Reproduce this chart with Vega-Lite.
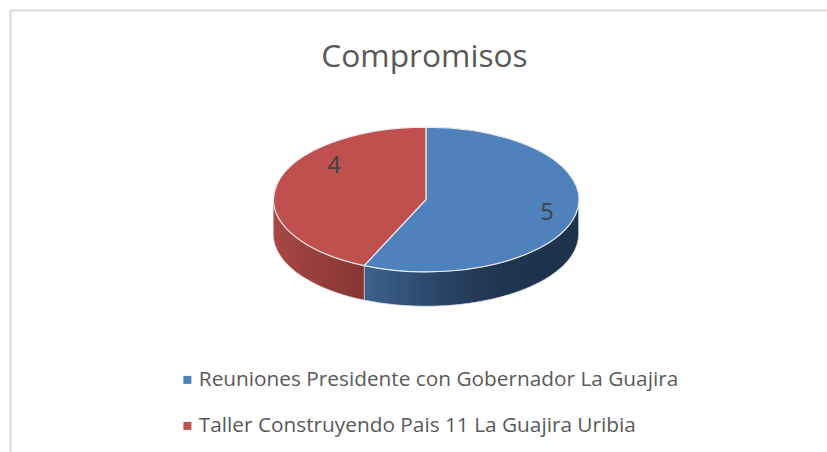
{
"$schema":"https://vega.github.io/schema/vega-lite/v6.json",
"width":817,"height":442,
"autosize":{"type":"none"},
"padding":{"left":10,"top":10,"right":0,"bottom":0},
"background":"white",
"view":{"stroke":null},
"title":{"text":"Compromisos","font":"Open Sans","fontSize":31.7,"fontWeight":"normal","color":"#595959","anchor":"middle","frame":"group","dx":6,"offset":-89,"baseline":"alphabetic"},
"data":{"values":[
{"categoria":"Reuniones Presidente con Gobernador La Guajira","porcion":"Reuniones","valor":5},
{"categoria":"Taller Construyendo Pais 11 La Guajira Uribia","porcion":"Taller","valor":4}
]},
"encoding":{
"x":{"datum":0,"type":"quantitative","scale":{"domain":[-2.724,2.626],"nice":false,"zero":false},"axis":{"orient":"top","domain":true,"domainColor":"#d9d9d9","domainWidth":2,"ticks":false,"labels":false,"grid":false,"title":null}},
"y":{"datum":0,"type":"quantitative","scale":{"domain":[-1.654,1.241],"nice":false,"zero":false},"axis":{"orient":"left","domain":true,"domainColor":"#d9d9d9","domainWidth":2,"ticks":false,"labels":false,"grid":false,"title":null}},
"shape":{"field":"porcion","type":"nominal","legend":null,"scale":{"domain":["Reuniones","Taller"],"range":["M0 0L0 -.474A1 .474 0 1 1 -.405 .433Z","M0 0L-.405 .433A1 .474 0 0 1 0 -.474Z"]}}
},
"layer":[
{"transform":[{"filter":"datum.valor==5"}],
 "mark":{"type":"point","filled":true,"size":93269,"opacity":1,"stroke":"#d5dce6","strokeWidth":0.8,"fill":{"gradient":"linear","x1":0,"y1":0,"x2":1,"y2":0,"stops":[{"offset":0,"color":"#3d628e"},{"offset":0.35,"color":"#2a4566"},{"offset":0.65,"color":"#1f344e"},{"offset":1,"color":"#1d3349"}]}},
 "encoding":{"shape":{"value":"M1 0A1 .474 0 0 1 -.405 .433L-.405 .659A1 .474 0 0 0 1 .226Z"}}},
{"transform":[{"filter":"datum.valor==4"}],
 "mark":{"type":"point","filled":true,"size":93269,"opacity":1,"stroke":"#e2cfcf","strokeWidth":0.5,"fill":{"gradient":"linear","x1":0,"y1":0,"x2":1,"y2":0,"stops":[{"offset":0,"color":"#a84846"},{"offset":1,"color":"#843432"}]}},
 "encoding":{"shape":{"value":"M-.405 .433A1 .474 0 0 1 -1 0L-1 .226A1 .474 0 0 0 -.405 .659Z"}}},
{"mark":{"type":"point","filled":true,"size":93269,"opacity":1,"stroke":"#e8ebf0","strokeWidth":1.2},
 "encoding":{"color":{"field":"categoria","type":"nominal","sort":null,
  "scale":{"domain":["Reuniones Presidente con Gobernador La Guajira","Taller Construyendo Pais 11 La Guajira Uribia"],"range":["#4f81bd","#c0504d"]},
  "legend":{"title":null,"orient":"none","legendX":167,"legendY":359.5,"symbolType":"square","symbolSize":64,"symbolStrokeWidth":0,"symbolOpacity":1,"labelFont":"Open Sans","labelFontSize":20.8,"labelColor":"#595959","labelLimit":600,"rowPadding":24,"labelOffset":1}}}},
{"transform":[{"filter":"datum.valor==4"}],
 "mark":{"type":"text","font":"Open Sans","fontSize":23,"color":"#404040","dx":-92,"dy":-33},
 "encoding":{"text":{"field":"valor","type":"quantitative"},"shape":{"value":null}}},
{"transform":[{"filter":"datum.valor==5"}],
 "mark":{"type":"text","font":"Open Sans","fontSize":23,"color":"#404040","dx":121,"dy":14},
 "encoding":{"text":{"field":"valor","type":"quantitative"},"shape":{"value":null}}}
]
}
